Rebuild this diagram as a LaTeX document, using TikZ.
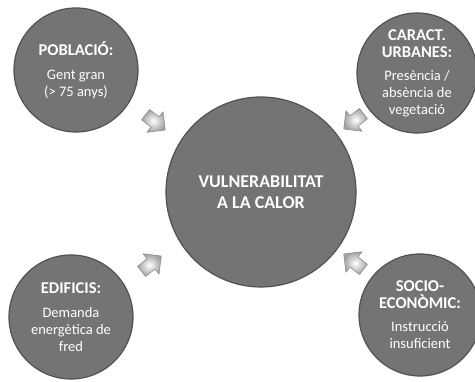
\documentclass[tikz,border=0pt]{standalone}
\usepackage{fontspec}
\setmainfont{Carlito}
\definecolor{circfill}{RGB}{116,116,116}
\definecolor{circedge}{RGB}{82,82,82}
\definecolor{arrfill}{RGB}{190,190,190}
\definecolor{arredge}{RGB}{140,140,140}
\tikzset{
  bubble/.style={circle, fill=circfill, draw=circedge, line width=1.2pt, inner sep=0pt},
  bubtext/.style={text=white, align=center, inner sep=0pt},
  ttl/.style={font=\fontsize{16.5}{17}\selectfont\bfseries},
  blockarr/.pic={
    \path[draw=arredge, line width=0.6pt, inner color=white, outer color=arrfill!85!black,
      line join=round]
      (-12,-6.5) -- (0,-6.5) -- (0,-13) -- (13,0) -- (0,13) -- (0,6.5) -- (-12,6.5) -- cycle;
    \coordinate (-tip) at (13,0);
  }
}
\newcommand{\bodyf}{\fontsize{14.5}{15}\selectfont\mdseries}
\begin{document}
\begin{tikzpicture}[x=1pt,y=1pt]
\useasboundingbox (0,0) rectangle (475,382);
\fill[white] (0,0) rectangle (475,382);
% circles
\node[bubble, minimum size=124pt] (tl) at (76,312) {};
\node[bubble, minimum size=120pt] (tr) at (417,309) {};
\node[bubble, minimum size=190pt] (c) at (261,190) {};
\node[bubble, minimum size=124pt] (bl) at (71,65) {};
\node[bubble, minimum size=122pt] (br) at (420,67) {};
% texts
\node[bubtext, ttl] (tlt) at (tl) {POBLACIÓ:\\[7pt]\bodyf Gent gran\\\bodyf (> 75 anys)};
\node[bubtext, ttl] (trt) at (tr) {CARACT.\\URBANES:\\[6pt]\bodyf Presència /\\\bodyf absència de\\\bodyf vegetació};
\node[bubtext, font=\fontsize{18}{21.5}\selectfont\bfseries] (ct) at (c) {VULNERABILITAT\\A LA CALOR};
\node[bubtext, ttl] (blt) at (bl) {EDIFICIS:\\[7pt]\bodyf Demanda\\\bodyf energètica de\\\bodyf fred};
\node[bubtext, ttl] (brt) at (br) {SOCIO-\\ECONÒMIC:\\[6pt]\bodyf Instrucció\\\bodyf insuficient};
% block arrows
\pic[rotate=-38] (atl) at (155,260) {blockarr};
\pic[rotate=-142] (atr) at (354,261) {blockarr};
\pic[rotate=38] (abl) at (151,118) {blockarr};
\pic[rotate=142] (abr) at (354,120) {blockarr};
\end{tikzpicture}
\end{document}
